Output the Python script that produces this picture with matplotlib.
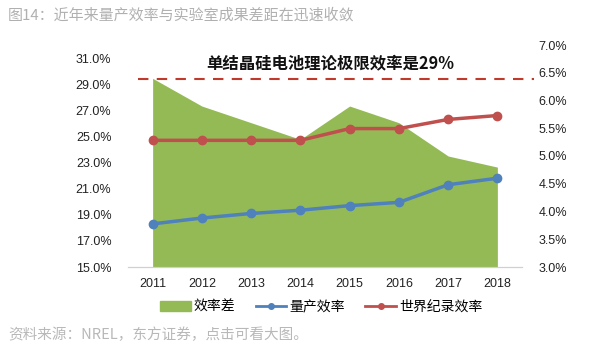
import numpy as np
import matplotlib.pyplot as plt

plt.rcParams['font.family'] = ['Noto Sans CJK SC', 'DejaVu Sans']

years = ['2011', '2012', '2013', '2014', '2015', '2016', '2017', '2018']
gap = [6.40, 5.90, 5.60, 5.30, 5.90, 5.60, 5.00, 4.80]          # 效率差, right axis
mass_prod = [18.3, 18.75, 19.1, 19.35, 19.7, 19.95, 21.3, 21.8]  # 量产效率
record = [24.7, 24.7, 24.7, 24.7, 25.6, 25.6, 26.3, 26.6]        # 世界纪录效率
limit = 29.4

green = '#94BA55'
blue = '#4F81BD'
red = '#C0504D'
num_font = ['Liberation Sans', 'DejaVu Sans']
x = np.arange(len(years))

fig = plt.figure(figsize=(6, 3.55), dpi=100)
ax = fig.add_axes([128 / 600, 1 - 267 / 355, (522 - 128) / 600, (267 - 45) / 355])
ax2 = ax.twinx()

# green area on the right axis, drawn underneath
ax2.fill_between(x, 3.0, gap, color=green, linewidth=0, zorder=1)
ax2.set_ylim(3.0, 7.0)
ax2.set_yticks(np.arange(3.0, 7.01, 0.5))
ax2.set_yticklabels(['%.1f%%' % v for v in np.arange(3.0, 7.01, 0.5)], family=num_font)

ax.set_zorder(ax2.get_zorder() + 1)
ax.patch.set_visible(False)
ax.plot(x, mass_prod, color=blue, lw=2.5, marker='o', ms=6, zorder=3)
ax.plot(x, record, color=red, lw=2.5, marker='o', ms=6, zorder=3)
ax.plot([-0.3, 7.75], [limit, limit], color='#C0392B', lw=1.5, ls=(0, (5, 4)),
        clip_on=False, zorder=4)
ax.text(3.6, 30.6, '单结晶硅电池理论极限效率是29%', ha='center', va='center',
        fontsize=11.8, fontweight='bold', color='#111111')

ax.set_xlim(-0.5, 7.5)
ax.set_ylim(15.0, 32.0)
ax.set_yticks(np.arange(15, 31.1, 2))
ax.set_yticklabels(['%.1f%%' % v for v in np.arange(15, 31.1, 2)], family=num_font)
ax.set_xticks(x)
ax.set_xticklabels(years, family=num_font)

for a in (ax, ax2):
    for s in ('top', 'left', 'right'):
        a.spines[s].set_visible(False)
    a.spines['bottom'].set_color('#d0d0d0')
    a.tick_params(length=0, labelsize=9, colors='#222222')
ax.tick_params(axis='y', pad=12)
ax.tick_params(axis='x', pad=8)
ax2.tick_params(axis='y', pad=12)

# legend
h1 = plt.Rectangle((0, 0), 1, 1, color=green)
h2, = ax.plot([], [], color=blue, lw=2, marker='o', ms=4)
h3, = ax.plot([], [], color=red, lw=2, marker='o', ms=4)
fig.legend([h1, h2, h3], ['效率差', '量产效率', '世界纪录效率'], loc='center',
           bbox_to_anchor=(0.535, 1 - 307 / 355), ncol=3, frameon=False,
           fontsize=10, handlelength=2.2, handletextpad=0.2, columnspacing=1.5)

fig.text(8 / 600, 1 - 15 / 355, '图14：近年来量产效率与实验室成果差距在迅速收敛',
         fontsize=10.8, color='#b0b0b0', va='center')
fig.text(8 / 600, 1 - 335 / 355, '资料来源：NREL，东方证券，点击可看大图。',
         fontsize=10.5, color='#b8b8b8', va='center')

fig.savefig('out.png', dpi=100)
